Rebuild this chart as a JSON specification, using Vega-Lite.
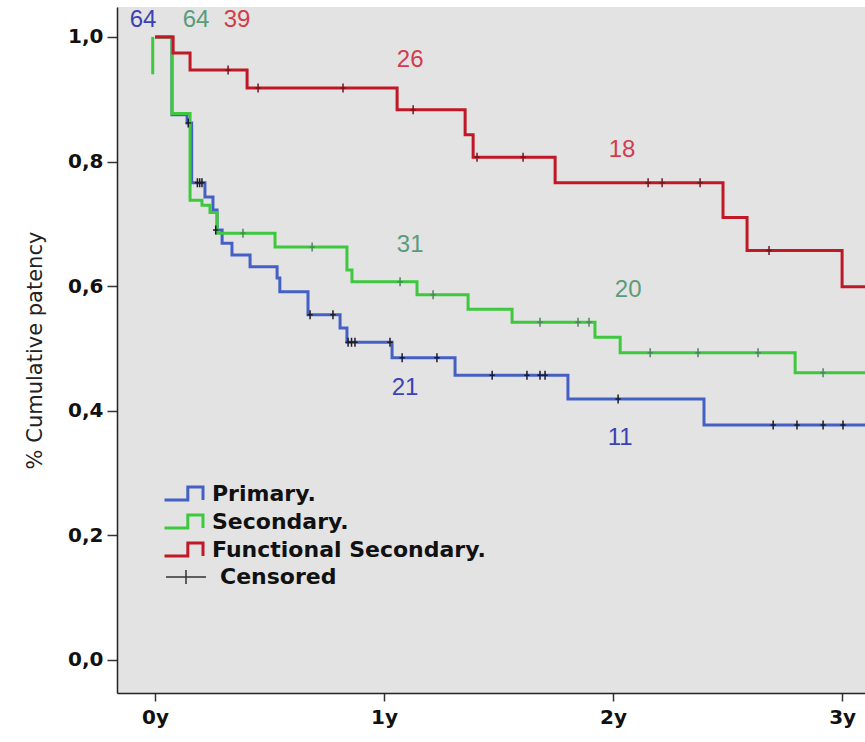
{
  "$schema": "https://vega.github.io/schema/vega-lite/v6.json",
  "width": 748,
  "height": 686,
  "autosize": {"type": "none"},
  "padding": {"left": 117, "top": 7, "right": 0, "bottom": 49},
  "background": "white",
  "datasets": {
    "curves": [
      {"g": "Primary.", "seg": "P", "t": 0, "s": 1.0},
      {"g": "Primary.", "seg": "P", "t": 0.074, "s": 0.875},
      {"g": "Primary.", "seg": "P", "t": 0.14, "s": 0.862},
      {"g": "Primary.", "seg": "P", "t": 0.16, "s": 0.766},
      {"g": "Primary.", "seg": "P", "t": 0.218, "s": 0.743},
      {"g": "Primary.", "seg": "P", "t": 0.253, "s": 0.722},
      {"g": "Primary.", "seg": "P", "t": 0.271, "s": 0.690},
      {"g": "Primary.", "seg": "P", "t": 0.293, "s": 0.669},
      {"g": "Primary.", "seg": "P", "t": 0.336, "s": 0.650},
      {"g": "Primary.", "seg": "P", "t": 0.415, "s": 0.631},
      {"g": "Primary.", "seg": "P", "t": 0.533, "s": 0.613},
      {"g": "Primary.", "seg": "P", "t": 0.545, "s": 0.591},
      {"g": "Primary.", "seg": "P", "t": 0.668, "s": 0.554},
      {"g": "Primary.", "seg": "P", "t": 0.808, "s": 0.533},
      {"g": "Primary.", "seg": "P", "t": 0.838, "s": 0.510},
      {"g": "Primary.", "seg": "P", "t": 1.035, "s": 0.485},
      {"g": "Primary.", "seg": "P", "t": 1.310, "s": 0.457},
      {"g": "Primary.", "seg": "P", "t": 1.803, "s": 0.419},
      {"g": "Primary.", "seg": "P", "t": 2.397, "s": 0.377},
      {"g": "Primary.", "seg": "P", "t": 3.1, "s": 0.377},
      {"g": "Secondary.", "seg": "S", "t": 0, "s": 1.0},
      {"g": "Secondary.", "seg": "S", "t": 0.074, "s": 0.877},
      {"g": "Secondary.", "seg": "S", "t": 0.153, "s": 0.738},
      {"g": "Secondary.", "seg": "S", "t": 0.205, "s": 0.730},
      {"g": "Secondary.", "seg": "S", "t": 0.240, "s": 0.718},
      {"g": "Secondary.", "seg": "S", "t": 0.271, "s": 0.685},
      {"g": "Secondary.", "seg": "S", "t": 0.524, "s": 0.663},
      {"g": "Secondary.", "seg": "S", "t": 0.838, "s": 0.626},
      {"g": "Secondary.", "seg": "S", "t": 0.860, "s": 0.607},
      {"g": "Secondary.", "seg": "S", "t": 1.144, "s": 0.586},
      {"g": "Secondary.", "seg": "S", "t": 1.367, "s": 0.563},
      {"g": "Secondary.", "seg": "S", "t": 1.559, "s": 0.542},
      {"g": "Secondary.", "seg": "S", "t": 1.921, "s": 0.518},
      {"g": "Secondary.", "seg": "S", "t": 2.031, "s": 0.493},
      {"g": "Secondary.", "seg": "S", "t": 2.795, "s": 0.461},
      {"g": "Secondary.", "seg": "S", "t": 3.1, "s": 0.461},
      {"g": "Secondary.", "seg": "S0", "t": -0.01, "s": 1.0},
      {"g": "Secondary.", "seg": "S0", "t": -0.01, "s": 0.94},
      {"g": "Functional Secondary.", "seg": "F", "t": 0, "s": 1.0},
      {"g": "Functional Secondary.", "seg": "F", "t": 0.079, "s": 0.974},
      {"g": "Functional Secondary.", "seg": "F", "t": 0.153, "s": 0.947},
      {"g": "Functional Secondary.", "seg": "F", "t": 0.402, "s": 0.918},
      {"g": "Functional Secondary.", "seg": "F", "t": 1.057, "s": 0.883},
      {"g": "Functional Secondary.", "seg": "F", "t": 1.354, "s": 0.843},
      {"g": "Functional Secondary.", "seg": "F", "t": 1.389, "s": 0.807},
      {"g": "Functional Secondary.", "seg": "F", "t": 1.747, "s": 0.766},
      {"g": "Functional Secondary.", "seg": "F", "t": 2.480, "s": 0.710},
      {"g": "Functional Secondary.", "seg": "F", "t": 2.585, "s": 0.657},
      {"g": "Functional Secondary.", "seg": "F", "t": 3.000, "s": 0.599},
      {"g": "Functional Secondary.", "seg": "F", "t": 3.1, "s": 0.599}
    ],
    "censors": [
      {"g": "Primary.", "t": 0.145, "s": 0.862},
      {"g": "Primary.", "t": 0.185, "s": 0.766},
      {"g": "Primary.", "t": 0.195, "s": 0.766},
      {"g": "Primary.", "t": 0.205, "s": 0.766},
      {"g": "Primary.", "t": 0.265, "s": 0.690},
      {"g": "Primary.", "t": 0.677, "s": 0.554},
      {"g": "Primary.", "t": 0.777, "s": 0.554},
      {"g": "Primary.", "t": 0.843, "s": 0.510},
      {"g": "Primary.", "t": 0.858, "s": 0.510},
      {"g": "Primary.", "t": 0.873, "s": 0.510},
      {"g": "Primary.", "t": 1.026, "s": 0.510},
      {"g": "Primary.", "t": 1.079, "s": 0.485},
      {"g": "Primary.", "t": 1.231, "s": 0.485},
      {"g": "Primary.", "t": 1.472, "s": 0.457},
      {"g": "Primary.", "t": 1.624, "s": 0.457},
      {"g": "Primary.", "t": 1.681, "s": 0.457},
      {"g": "Primary.", "t": 1.703, "s": 0.457},
      {"g": "Primary.", "t": 2.022, "s": 0.419},
      {"g": "Primary.", "t": 2.699, "s": 0.377},
      {"g": "Primary.", "t": 2.803, "s": 0.377},
      {"g": "Primary.", "t": 2.917, "s": 0.377},
      {"g": "Primary.", "t": 3.004, "s": 0.377},
      {"g": "Secondary.", "t": 0.384, "s": 0.685},
      {"g": "Secondary.", "t": 0.686, "s": 0.663},
      {"g": "Secondary.", "t": 1.070, "s": 0.607},
      {"g": "Secondary.", "t": 1.214, "s": 0.586},
      {"g": "Secondary.", "t": 1.681, "s": 0.542},
      {"g": "Secondary.", "t": 1.847, "s": 0.542},
      {"g": "Secondary.", "t": 1.895, "s": 0.542},
      {"g": "Secondary.", "t": 2.162, "s": 0.493},
      {"g": "Secondary.", "t": 2.371, "s": 0.493},
      {"g": "Secondary.", "t": 2.633, "s": 0.493},
      {"g": "Secondary.", "t": 2.917, "s": 0.461},
      {"g": "Functional Secondary.", "t": 0.319, "s": 0.947},
      {"g": "Functional Secondary.", "t": 0.450, "s": 0.918},
      {"g": "Functional Secondary.", "t": 0.821, "s": 0.918},
      {"g": "Functional Secondary.", "t": 1.127, "s": 0.883},
      {"g": "Functional Secondary.", "t": 1.406, "s": 0.807},
      {"g": "Functional Secondary.", "t": 1.607, "s": 0.807},
      {"g": "Functional Secondary.", "t": 2.153, "s": 0.766},
      {"g": "Functional Secondary.", "t": 2.214, "s": 0.766},
      {"g": "Functional Secondary.", "t": 2.380, "s": 0.766},
      {"g": "Functional Secondary.", "t": 2.681, "s": 0.657}
    ],
    "atrisk": [
      {"g": "Primary.", "t": -0.052, "s": 1.027, "n": "64"},
      {"g": "Primary.", "t": 1.092, "s": 0.437, "n": "21"},
      {"g": "Primary.", "t": 2.031, "s": 0.356, "n": "11"},
      {"g": "Secondary.", "t": 0.179, "s": 1.027, "n": "64"},
      {"g": "Secondary.", "t": 1.114, "s": 0.666, "n": "31"},
      {"g": "Secondary.", "t": 2.066, "s": 0.594, "n": "20"},
      {"g": "Functional Secondary.", "t": 0.358, "s": 1.027, "n": "39"},
      {"g": "Functional Secondary.", "t": 1.114, "s": 0.963, "n": "26"},
      {"g": "Functional Secondary.", "t": 2.039, "s": 0.819, "n": "18"}
    ]
  },
  "layer": [
    {
      "data": {"name": "curves"},
      "mark": {"type": "line", "interpolate": "step-after", "strokeWidth": 3, "clip": true},
      "encoding": {
        "x": {"field": "t", "type": "quantitative"},
        "y": {"field": "s", "type": "quantitative"},
        "detail": {"field": "seg"},
        "color": {
          "field": "g", "type": "nominal",
          "scale": {"domain": ["Primary.", "Secondary.", "Functional Secondary."], "range": ["#4560c4", "#3ec83e", "#c01826"]},
          "legend": {
            "title": null, "orient": "none", "legendX": 57, "legendY": 474,
            "symbolType": "M-2,0.6H0.12V-0.6H1.5V0.6",
            "symbolSize": 484, "symbolStrokeWidth": 3, "symbolFillColor": "transparent",
            "labelFont": "DejaVu Sans", "labelFontWeight": "bold", "labelFontSize": 22,
            "labelColor": "#111", "labelOffset": 13, "rowPadding": 1, "labelLimit": 500
          }
        }
      }
    },
    {
      "data": {"name": "censors"},
      "mark": {"type": "point", "filled": false, "strokeWidth": 1.5, "size": 81, "shape": "M-0.6,0H0.6M0,-1V1", "clip": true},
      "encoding": {
        "x": {"field": "t", "type": "quantitative"},
        "y": {"field": "s", "type": "quantitative"},
        "color": {
          "field": "g", "type": "nominal",
          "scale": {"domain": ["Primary.", "Secondary.", "Functional Secondary."], "range": ["#1c1c2c", "#4a8a5a", "#7a1420"]},
          "legend": null
        },
        "opacity": {
          "datum": "Censored", "type": "nominal",
          "scale": {"range": [1]},
          "legend": {
            "title": null, "orient": "none", "legendX": 48, "legendY": 549,
            "symbolType": "M-1,0H1M0,-0.35V0.35", "symbolSize": 1600,
            "symbolStrokeColor": "#333", "symbolStrokeWidth": 1.5, "symbolFillColor": "transparent",
            "labelFont": "DejaVu Sans", "labelFontWeight": "bold", "labelFontSize": 22,
            "labelColor": "#111", "labelOffset": 13
          }
        }
      }
    },
    {
      "data": {"name": "atrisk"},
      "mark": {"type": "text", "font": "Liberation Sans", "fontSize": 24, "align": "center", "baseline": "middle"},
      "encoding": {
        "x": {"field": "t", "type": "quantitative"},
        "y": {"field": "s", "type": "quantitative"},
        "text": {"field": "n"},
        "color": {
          "field": "g", "type": "nominal",
          "scale": {"domain": ["Primary.", "Secondary.", "Functional Secondary."], "range": ["#3a42b4", "#5a9c7a", "#d23c4c"]},
          "legend": null
        }
      }
    }
  ],
  "encoding": {
    "x": {
      "field": "t", "type": "quantitative",
      "scale": {"domain": [-0.166, 3.1], "nice": false, "zero": false},
      "axis": {
        "title": null, "values": [0, 1, 2, 3], "labelExpr": "datum.value + 'y'",
        "grid": false, "tickSize": 8, "labelPadding": 6,
        "labelFont": "DejaVu Sans", "labelFontWeight": "bold", "labelFontSize": 20, "labelColor": "#111",
        "domainColor": "#222", "domainWidth": 1.5, "tickColor": "#333", "tickWidth": 1.5
      }
    },
    "y": {
      "field": "s", "type": "quantitative",
      "scale": {"domain": [-0.053, 1.048], "nice": false, "zero": false},
      "axis": {
        "title": "% Cumulative patency", "values": [0, 0.2, 0.4, 0.6, 0.8, 1.0],
        "labelExpr": "replace(format(datum.value, '.1f'), '.', ',')",
        "grid": false, "tickSize": 10, "labelPadding": 4,
        "labelFont": "DejaVu Sans", "labelFontWeight": "bold", "labelFontSize": 20, "labelColor": "#111",
        "domainColor": "#222", "domainWidth": 1.5, "tickColor": "#333", "tickWidth": 1.5,
        "titleFont": "DejaVu Sans", "titleFontWeight": "normal", "titleFontSize": 21, "titleColor": "#222", "titlePadding": 22
      }
    }
  },
  "resolve": {"scale": {"color": "independent", "shape": "independent"}, "legend": {"color": "independent"}},
  "config": {
    "view": {"fill": "#e3e3e3", "stroke": null}
  }
}
